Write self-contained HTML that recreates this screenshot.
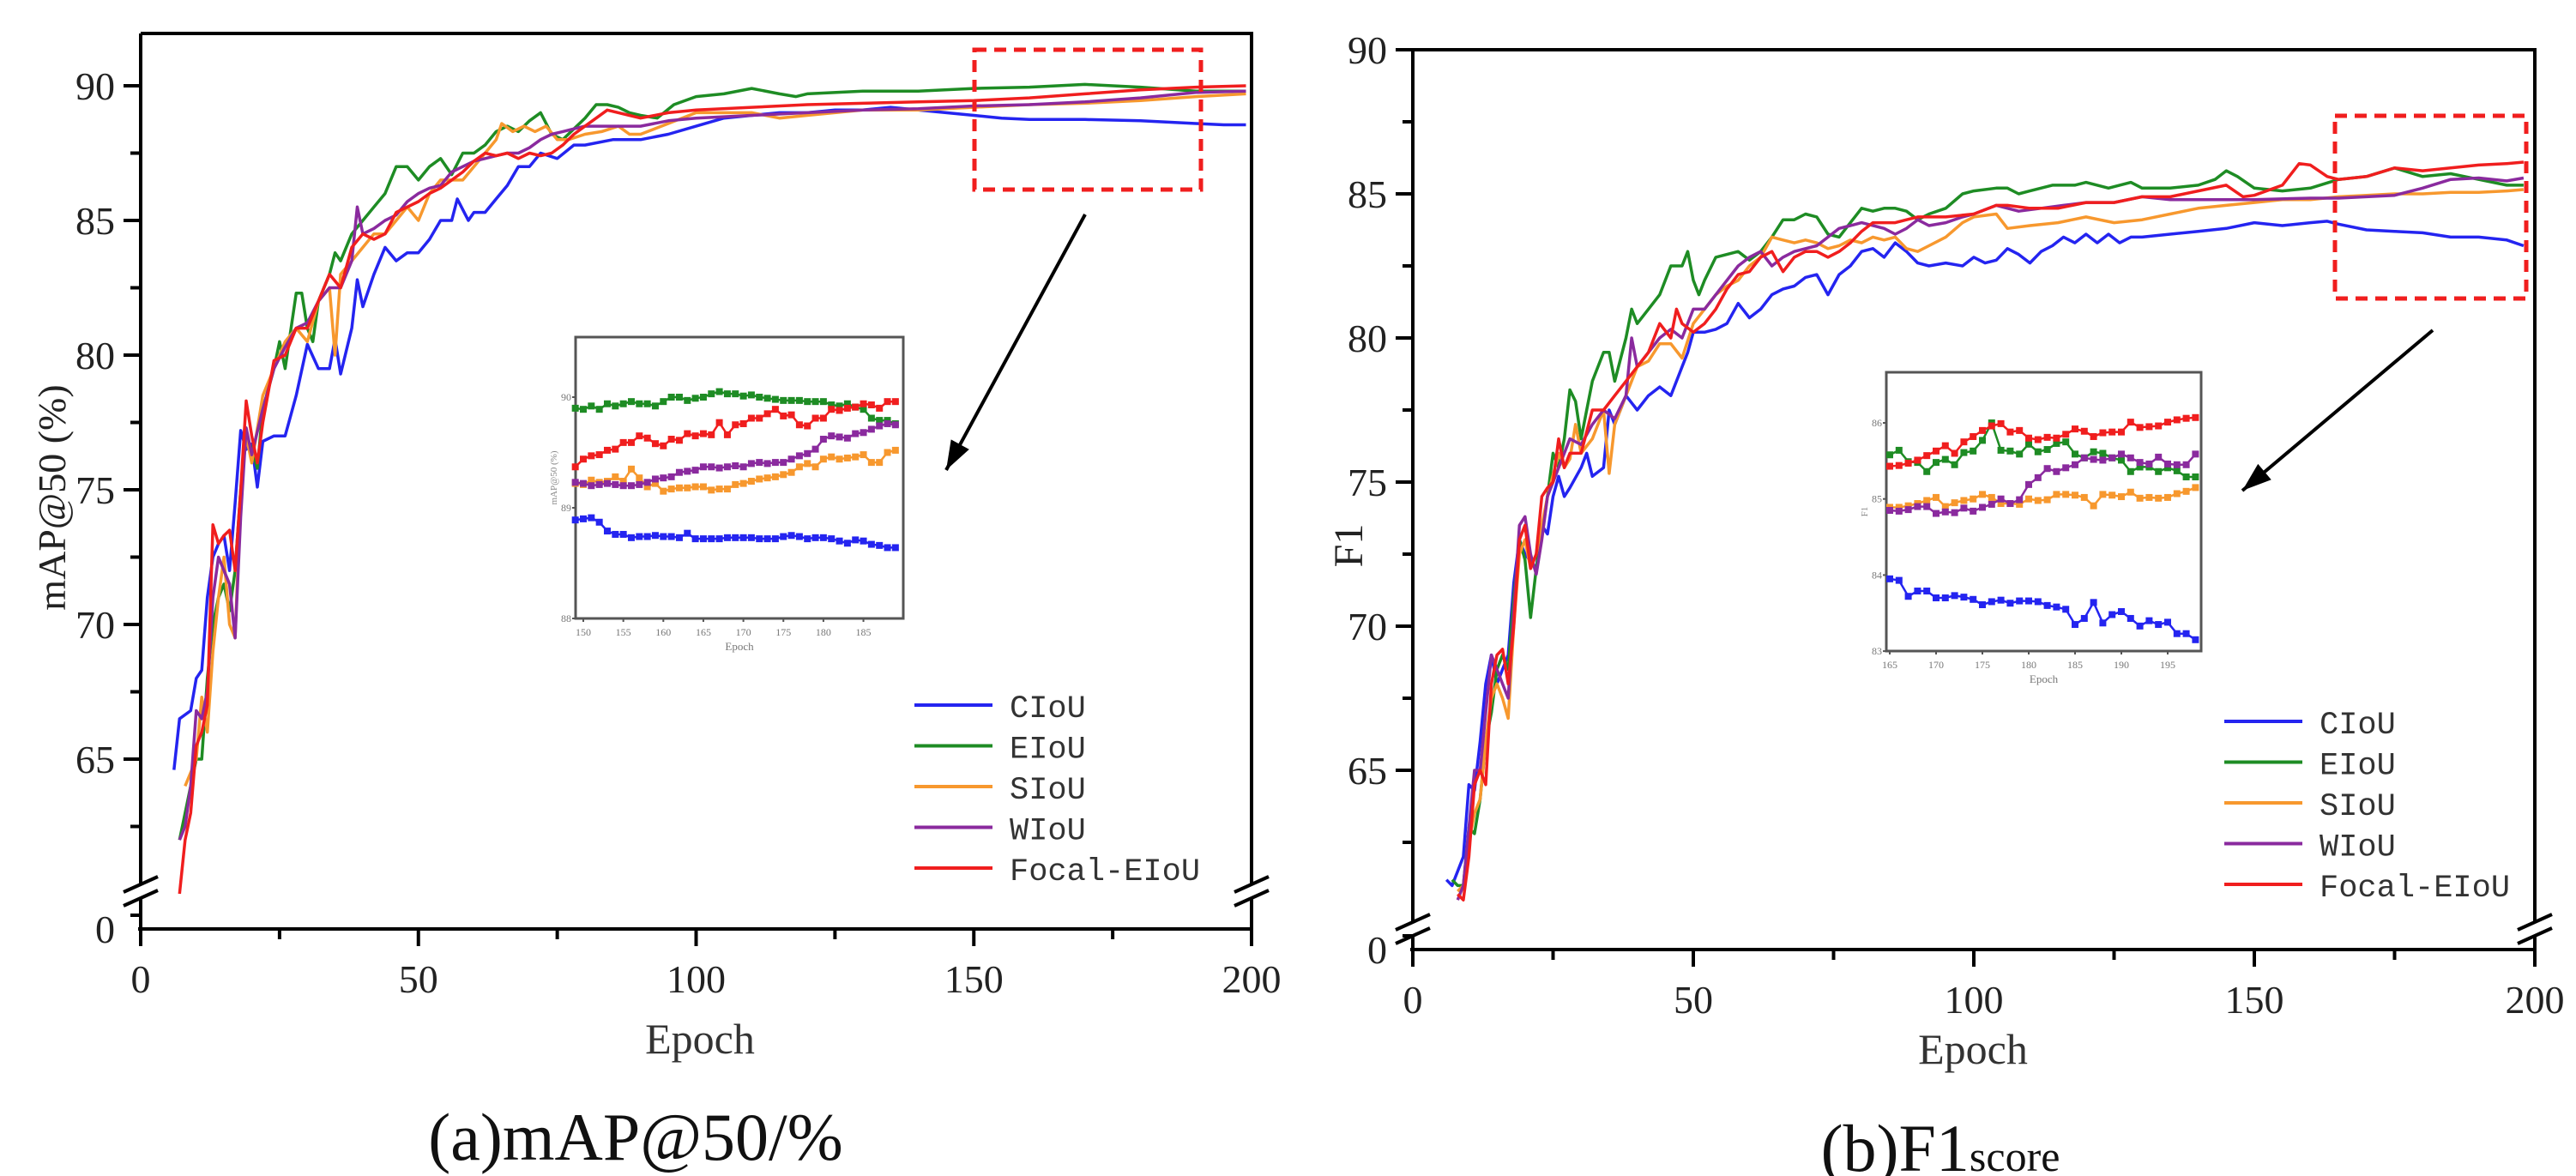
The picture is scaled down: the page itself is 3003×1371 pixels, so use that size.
<!DOCTYPE html>
<html><head><meta charset="utf-8"><style>
html,body{margin:0;padding:0;background:#fff;}
svg{display:block;}
</style></head><body>
<svg id="fig" width="3003" height="1371" viewBox="0 0 3003 1371" xmlns="http://www.w3.org/2000/svg" font-family="'Liberation Serif', serif">
<rect width="3003" height="1371" fill="#fff"/>
<g id="pa"></g>
<g id="pb"></g>
</svg>
<script>
const names=["CIoU","EIoU","SIoU","WIoU","Focal-EIoU"];
const colors=["#2424f0","#1e8c24","#f7982e","#8a2a9e","#f01e1e"];
// ---- panel a main data (mAP@50) ----
const aCiouE=[6,7,9,10,11,12,13,14,15,16,17,18,19,20,21,22,24,26,28,30,32,34,35,36,38,39,40,42,44,46,48,50,52,54,56,57,59,60,62,64,66,68,70,72,75,78,80,85,90,95,100,105,110,115,120,125,130,135,140,145,150,155,160,170,180,190,195,199];
const aCiouV=[64.6,66.5,66.8,68,68.3,71,72.5,73,73.3,72,74.5,77.2,76.5,76.7,75.1,76.8,77,77,78.5,80.4,79.5,79.5,80.6,79.3,81,82.8,81.8,83,84,83.5,83.8,83.8,84.3,85,85,85.8,85,85.3,85.3,85.8,86.3,87,87,87.5,87.3,87.8,87.8,88,88,88.2,88.5,88.8,88.9,89,89,89.1,89.1,89.2,89.1,89,88.9,88.8,88.75,88.75,88.7,88.6,88.55,88.55];
const aEiouE=[7,8,10,11,12,13,14,15,16,17,18,19,20,21,22,24,25,26,28,29,30,31,32,34,35,36,38,40,42,44,46,48,50,52,54,56,58,60,62,64,66,68,70,72,74,76,78,80,82,84,86,88,90,93,96,100,105,110,115,118,120,130,140,150,160,170,180,190,199];
const aEiouV=[62,63,65,65,68,70,71,71.5,70.5,72,75,77,76.5,75.8,78,79.5,80.5,79.5,82.3,82.3,81,80.5,82,83,83.8,83.5,84.5,85,85.5,86,87,87,86.5,87,87.3,86.7,87.5,87.5,87.8,88.3,88.5,88.3,88.7,89,88.2,88,88.4,88.8,89.3,89.3,89.2,89,88.9,88.8,89.3,89.6,89.7,89.9,89.7,89.6,89.7,89.8,89.8,89.9,89.95,90.05,89.95,89.8,89.8];
const aSiouE=[8,10,11,12,13,14,15,16,17,18,19,20,22,24,26,28,30,32,34,35,36,38,40,42,44,46,48,50,52,54,56,58,60,62,64,65,67,69,71,73,75,77,80,83,86,88,90,95,100,105,110,115,120,130,140,150,160,170,180,190,199];
const aSiouV=[64,65,67.3,66,69,71,72.5,70,69.5,75,77,76,78.5,79.5,80.5,81,80.5,82,82.5,80,83,83.5,84,84.5,84.5,85,85.5,85,86,86.5,86.5,86.5,87,87.5,88,88.6,88.3,88.5,88.3,88.5,88,88,88.2,88.3,88.5,88.2,88.2,88.6,89,89,89,88.8,88.9,89.1,89.1,89.2,89.3,89.35,89.45,89.6,89.7];
const aWiouE=[7,8,9,10,11,12,13,14,15,16,17,18,19,20,22,24,26,28,30,32,34,36,38,39,40,42,44,46,48,50,52,54,56,58,60,62,64,66,68,70,72,74,76,78,80,84,88,90,95,100,110,120,130,140,150,160,170,180,190,199];
const aWiouV=[62,62.5,64,66.8,66.5,67.5,71,72.5,72,71.5,69.5,74,77.3,76.3,78,79.5,80.3,81,81.2,82,82.5,82.5,83.5,85.5,84.5,84.7,85,85.2,85.7,86,86.2,86.3,86.8,87,87.2,87.3,87.4,87.5,87.5,87.7,88,88.2,88.3,88.4,88.5,88.5,88.5,88.5,88.7,88.8,88.9,89,89.1,89.15,89.25,89.3,89.4,89.55,89.75,89.8];
const aFocE=[7,8,9,10,11,12,13,14,15,16,17,18,19,20,21,22,24,26,28,30,32,34,36,38,40,42,44,46,48,50,52,54,56,58,60,62,64,66,68,70,72,74,76,78,80,82,84,86,88,90,95,100,110,120,130,140,150,160,170,180,190,199];
const aFocV=[60,62,63,65.5,66,67,73.7,73,73.3,73.5,72,75,78.3,77,76,77.5,79.8,80,81,81,82,83,82.5,84,84.5,84.3,84.5,85.3,85.5,85.7,86,86.2,86.5,86.8,87.2,87.5,87.4,87.5,87.3,87.5,87.4,87.5,87.8,88.2,88.5,88.8,89.1,89,88.9,88.8,89,89.1,89.2,89.3,89.35,89.4,89.45,89.55,89.7,89.85,89.95,90];
// ---- panel a inset (epochs 149..189) ----
const aInsetStart=149;
const aInCiou=[88.89,88.9,88.91,88.87,88.79,88.76,88.76,88.73,88.74,88.74,88.75,88.74,88.74,88.73,88.77,88.72,88.72,88.72,88.72,88.73,88.73,88.73,88.73,88.72,88.72,88.72,88.74,88.75,88.74,88.72,88.73,88.73,88.72,88.7,88.68,88.71,88.7,88.67,88.66,88.64,88.64];
const aInEiou=[89.9,89.89,89.92,89.89,89.94,89.92,89.94,89.96,89.94,89.94,89.92,89.96,90,90,89.97,89.99,90,90.03,90.05,90.03,90.03,90.01,90.02,90,89.99,89.98,89.97,89.97,89.97,89.96,89.96,89.96,89.93,89.92,89.94,89.91,89.89,89.81,89.79,89.79,89.76];
const aInSiou=[89.22,89.21,89.25,89.23,89.24,89.28,89.24,89.35,89.27,89.19,89.22,89.15,89.17,89.18,89.18,89.19,89.19,89.16,89.17,89.17,89.21,89.22,89.24,89.26,89.27,89.28,89.3,89.32,89.37,89.4,89.37,89.44,89.46,89.44,89.45,89.46,89.48,89.41,89.41,89.5,89.52];
const aInWiou=[89.23,89.22,89.2,89.21,89.22,89.21,89.2,89.2,89.21,89.23,89.26,89.27,89.28,89.32,89.33,89.34,89.37,89.37,89.36,89.37,89.38,89.37,89.4,89.41,89.4,89.41,89.41,89.44,89.47,89.49,89.53,89.62,89.65,89.64,89.63,89.67,89.68,89.71,89.74,89.76,89.75];
const aInFoc=[89.37,89.44,89.47,89.48,89.52,89.53,89.59,89.59,89.65,89.63,89.58,89.56,89.62,89.61,89.67,89.65,89.67,89.66,89.77,89.66,89.75,89.76,89.81,89.81,89.85,89.89,89.83,89.84,89.75,89.74,89.81,89.81,89.89,89.88,89.9,89.91,89.94,89.93,89.9,89.96,89.96];
// ---- panel b main data (F1) ----
const bCiouE=[6,7,9,10,11,12,13,14,15,16,17,18,19,20,22,23,24,25,26,27,28,30,31,32,34,35,36,38,40,42,44,46,48,49,50,52,54,56,58,60,62,64,66,68,70,72,74,76,78,80,82,84,86,88,90,92,95,98,100,102,104,106,108,110,112,114,116,118,120,122,124,126,128,130,135,140,145,150,155,160,163,165,170,175,180,185,190,195,198];
const bCiouV=[61.2,61,62,64.5,64.3,66,68,69,68,68.5,69,71.5,73,72.5,72,73.5,73.2,74.5,75.2,74.5,74.8,75.5,76,75.2,75.5,77.5,77,78,77.5,78,78.3,78,79,79.5,80.2,80.2,80.3,80.5,81.2,80.7,81,81.5,81.7,81.8,82.1,82.2,81.5,82.2,82.5,83,83.1,82.8,83.3,83,82.6,82.5,82.6,82.5,82.8,82.6,82.7,83.1,82.9,82.6,83,83.2,83.5,83.3,83.6,83.3,83.6,83.3,83.5,83.5,83.6,83.7,83.8,84,83.9,84,84.05,83.95,83.75,83.7,83.65,83.5,83.5,83.4,83.2];
const bEiouE=[7,8,9,10,11,12,13,14,15,16,17,18,19,20,21,22,24,25,26,27,28,29,30,31,32,34,35,36,38,39,40,42,44,46,48,49,50,51,52,54,56,58,60,62,64,66,68,70,72,74,76,78,80,82,84,86,88,90,92,95,98,100,104,106,108,110,114,118,120,124,128,130,135,140,143,145,147,150,155,160,165,170,175,180,185,190,195,198];
const bEiouV=[61.2,61,61,63,62.8,64,66,67,68.5,69,68.5,71,73,72.3,70.3,72,74.5,76,75.5,76.5,78.2,77.8,76.5,77.5,78.5,79.5,79.5,78.5,80,81,80.5,81,81.5,82.5,82.5,83,82,81.5,82,82.8,82.9,83,82.7,83,83.5,84.1,84.1,84.3,84.2,83.6,83.5,84,84.5,84.4,84.5,84.5,84.4,84.1,84.3,84.5,85,85.1,85.2,85.2,85,85.1,85.3,85.3,85.4,85.2,85.4,85.2,85.2,85.3,85.5,85.8,85.6,85.2,85.1,85.2,85.5,85.6,85.9,85.6,85.7,85.5,85.3,85.3];
const bSiouE=[8,9,10,11,12,13,14,15,16,17,18,19,20,21,22,24,26,27,28,29,30,32,34,35,36,38,40,42,44,46,48,50,52,54,56,58,60,62,64,66,68,70,72,74,76,78,80,82,84,86,88,90,92,95,98,100,104,106,110,115,120,125,130,135,140,145,150,155,160,165,170,175,180,185,190,195,198];
const bSiouV=[60.8,61,62.5,63.5,64,66,67.5,68,67.5,66.8,70,72.5,73,72,72.5,74.5,76,75.5,75.8,77,76,76.5,77.5,75.3,77,78,79,79.2,79.8,79.8,79.3,80.5,81,81.5,81.8,82,82.5,82.8,83.5,83.4,83.3,83.4,83.3,83.1,83.2,83.4,83.3,83.5,83.4,83.5,83.1,83,83.2,83.5,84,84.2,84.3,83.8,83.9,84,84.2,84,84.1,84.3,84.5,84.6,84.7,84.8,84.8,84.9,84.95,85,85,85.05,85.05,85.1,85.15];
const bWiouE=[8,9,10,11,12,13,14,15,16,17,18,19,20,21,22,23,24,26,27,28,30,32,34,36,38,39,40,42,44,46,48,50,52,54,56,58,60,62,64,66,68,70,72,74,76,78,80,84,86,88,90,92,95,98,100,104,108,112,116,120,125,130,135,140,150,160,165,170,175,180,185,190,195,198];
const bWiouV=[60.5,61,63,65,65,67,69,68.5,68,67.5,70.5,73.5,73.8,72.5,71.8,73,74.5,75.5,76,76.5,76.3,77,77.5,77.2,78,80,79,79.5,80,80.3,80,81,81,81.5,82,82.5,82.8,83,82.5,82.8,83,83.1,83.2,83.5,83.8,83.9,84,83.8,83.6,83.8,84.1,83.9,84,84.2,84.3,84.6,84.4,84.5,84.6,84.7,84.7,84.9,84.8,84.8,84.8,84.85,84.85,84.9,84.95,85.2,85.5,85.55,85.45,85.55];
const bFocE=[8,9,10,11,12,13,14,15,16,17,18,19,20,21,22,23,24,25,26,27,28,30,32,34,36,38,40,42,44,46,47,48,50,52,54,56,58,60,62,64,66,68,70,72,74,76,78,80,82,84,86,88,90,95,100,104,106,110,115,120,125,130,135,140,145,148,150,155,158,160,163,165,170,175,180,185,190,195,198];
const bFocV=[60.7,60.5,62,64.5,65,64.5,68,69,69.2,68,70,73,73.5,72,72.5,74.5,74.8,75,76.5,75.5,76,76,77.5,77.5,78,78.5,79,79.5,80.5,80,81,80.5,80.2,80.5,81,81.7,82.2,82.3,82.8,83,82.3,82.8,83,83,82.8,83,83.3,83.7,84,84,84,84.1,84.2,84.2,84.3,84.6,84.6,84.5,84.5,84.7,84.7,84.9,84.9,85.1,85.3,84.9,84.95,85.3,86.05,86,85.6,85.5,85.6,85.9,85.8,85.9,86,86.05,86.1];
// ---- panel b inset (epochs 165..198) ----
const bInsetStart=165;
const bInCiou=[83.95,83.93,83.72,83.79,83.79,83.7,83.7,83.73,83.71,83.68,83.61,83.65,83.67,83.63,83.66,83.66,83.65,83.6,83.58,83.55,83.35,83.43,83.64,83.37,83.48,83.52,83.43,83.33,83.4,83.35,83.38,83.23,83.23,83.15];
const bInEiou=[85.58,85.64,85.49,85.48,85.36,85.48,85.52,85.45,85.61,85.63,85.77,86,85.64,85.63,85.59,85.72,85.62,85.65,85.73,85.75,85.59,85.54,85.62,85.6,85.54,85.51,85.36,85.42,85.42,85.36,85.41,85.37,85.29,85.29];
const bInSiou=[84.89,84.89,84.91,84.94,84.98,85.02,84.9,84.95,84.98,85,85.06,85.02,84.94,84.94,84.93,85,84.98,84.99,85.06,85.06,85.05,85.02,84.91,85.06,85.05,85.03,85.09,85.01,85.02,85.01,85.02,85.07,85.1,85.15];
const bInWiou=[84.85,84.84,84.86,84.9,84.9,84.81,84.83,84.82,84.88,84.84,84.89,84.93,85,84.94,84.99,85.19,85.28,85.4,85.36,85.41,85.45,85.54,85.52,85.51,85.54,85.59,85.54,85.48,85.46,85.55,85.46,85.45,85.45,85.59];
const bInFoc=[85.43,85.44,85.47,85.51,85.57,85.63,85.7,85.6,85.75,85.82,85.9,85.96,85.99,85.88,85.9,85.8,85.78,85.81,85.8,85.85,85.92,85.89,85.82,85.87,85.88,85.88,86.01,85.94,85.95,85.96,86.01,86.04,86.06,86.07];

const NS="http://www.w3.org/2000/svg";
function mk(parent,tag,attrs,text){const e=document.createElementNS(NS,tag);for(const k in attrs)e.setAttribute(k,attrs[k]);if(text!==undefined)e.textContent=text;parent.appendChild(e);return e;}

function panel(g,cfg){
  const X=e=>cfg.x0+(e-0)*(cfg.x1-cfg.x0)/200;
  const Y=v=>cfg.yTop+(cfg.vTop-v)*cfg.pu;
  // frame
  let fr=mk(g,'path',{d:`M${cfg.x0},${cfg.yBreak} L${cfg.x0},${cfg.y0} M${cfg.x0},${cfg.yBreak+16} L${cfg.x0},${cfg.axisY+20} M${cfg.x0-3},${cfg.axisY} L${cfg.x1},${cfg.axisY} L${cfg.x1},${cfg.yBreak+16} M${cfg.x1},${cfg.yBreak} L${cfg.x1},${cfg.y0} L${cfg.x0},${cfg.y0}`,stroke:'#000','stroke-width':4,fill:'none'});
  
  
  // break marks
  [cfg.x0,cfg.x1].forEach(bx=>{[0,16].forEach(o=>{const l=mk(g,'line',{x1:bx-20,y1:cfg.yBreak+o+10,x2:bx+20,y2:cfg.yBreak+o-8,stroke:'#000','stroke-width':4});
    
    });});
  // y ticks
  cfg.yTicks.forEach(v=>{const y=Y(v);
    const t=mk(g,'line',{x1:cfg.x0-20,y1:y,x2:cfg.x0,y2:y,stroke:'#000','stroke-width':4});
    
    
    const lb=mk(g,'text',{x:cfg.x0-30,y:y+16,'text-anchor':'end','font-size':46,fill:'#222'},String(v));
    
    });
  cfg.yMinor.forEach(v=>{const y=Y(v);const t=mk(g,'line',{x1:cfg.x0-12,y1:y,x2:cfg.x0,y2:y,stroke:'#000','stroke-width':4});
    
    });
  const zt=mk(g,'text',{x:cfg.x0-30,y:cfg.axisY+16,'text-anchor':'end','font-size':46,fill:'#222'},'0');
  
  
  const zl=mk(g,'line',{x1:cfg.x0-12,y1:cfg.axisY-16,x2:cfg.x0,y2:cfg.axisY-16,stroke:'#000','stroke-width':4});
  
  
  // x ticks
  [0,25,50,75,100,125,150,175,200].forEach(e=>{const x=X(e);const maj=e%50===0;
    const t=mk(g,'line',{x1:x,y1:cfg.axisY,x2:x,y2:cfg.axisY+(maj?20:12),stroke:'#000','stroke-width':4});
    
    
    if(maj){const lb=mk(g,'text',{x:x,y:cfg.axisY+74,'text-anchor':'middle','font-size':46,fill:'#222'},String(e));
      
      }});
  // series
  cfg.series.forEach((s,i)=>{const d=s[0].map((e,k)=>(k?'L':'M')+X(e).toFixed(1)+','+Y(s[1][k]).toFixed(1)).join(' ');
    const p=mk(g,'path',{d:d,stroke:colors[i],'stroke-width':3.5,fill:'none','stroke-linejoin':'round'});
    
    });
  // labels
  const xl=mk(g,'text',{x:cfg.xlx,y:cfg.xly,'text-anchor':'middle','font-size':50,fill:'#333'},'Epoch');
  
  
  const yl=mk(g,'text',{x:0,y:0,'text-anchor':'middle','font-size':cfg.ylSize,fill:'#222',transform:`translate(${cfg.ylx},${cfg.yly}) rotate(-90)`},cfg.ylabel);
  
  
  // legend
  const lg=mk(g,'g',{});
  
  
  names.forEach((n,i)=>{const y=cfg.legY+i*47.5;
    const l=mk(lg,'line',{x1:cfg.legX,y1:y,x2:cfg.legX+91,y2:y,stroke:colors[i],'stroke-width':4});
    
    
    const t=mk(lg,'text',{x:cfg.legX+111,y:y+14,'font-size':37,'font-family':"'Liberation Mono', monospace",fill:'#333'},n);
    
    });
  // dashed zoom box + arrow
  const b=cfg.box;
  const bx=mk(g,'rect',{x:b[0],y:b[1],width:b[2]-b[0],height:b[3]-b[1],fill:'none',stroke:'#f01e1e','stroke-width':5,'stroke-dasharray':'14,9'});
  
  
  const a=cfg.arrow;
  const ar=mk(g,'line',{x1:a[0],y1:a[1],x2:a[2],y2:a[3],stroke:'#000','stroke-width':4});
  
  
  const ang=Math.atan2(a[3]-a[1],a[2]-a[0]);const L=34,W=12;
  const hx=a[2]-L*Math.cos(ang),hy=a[3]-L*Math.sin(ang);
  const ah=mk(g,'polygon',{points:`${a[2]},${a[3]} ${hx+W*Math.sin(ang)},${hy-W*Math.cos(ang)} ${hx-W*Math.sin(ang)},${hy+W*Math.cos(ang)}`,fill:'#000'});
  
  
  // caption
  const cap=mk(g,'text',{x:cfg.capX,y:cfg.capY,'text-anchor':'middle','font-size':78,fill:'#111'});
  
  
  cap.textContent=cfg.cap;
  if(cfg.capSub){const ts=mk(cap,'tspan',{'font-size':50},cfg.capSub);}
}

function inset(g,c){
  const X=e=>c.ex0+(e-c.e0)*c.pe;
  const Y=v=>c.vy0+(c.v0-v)*c.pv;
  const r=mk(g,'rect',{x:c.l,y:c.t,width:c.r-c.l,height:c.b-c.t,fill:'#fff',stroke:'#555','stroke-width':3});
  
  
  c.yt.forEach(v=>{const y=Y(v);const lb=mk(g,'text',{x:c.l-5,y:y+4,'text-anchor':'end','font-size':12,fill:'#777'},String(v));
    
    
    const tk=mk(g,'line',{x1:c.l-4,y1:y,x2:c.l,y2:y,stroke:'#555','stroke-width':2});
    
    });
  c.xt.forEach(e=>{const x=X(e);const lb=mk(g,'text',{x:x,y:c.b+20,'text-anchor':'middle','font-size':12,fill:'#777'},String(e));
    
    
    const tk=mk(g,'line',{x1:x,y1:c.b,x2:x,y2:c.b+4,stroke:'#555','stroke-width':2});
    
    });
  const xl=mk(g,'text',{x:(c.l+c.r)/2,y:c.b+37,'text-anchor':'middle','font-size':13,fill:'#777'},'Epoch');
  
  
  const yl=mk(g,'text',{x:0,y:0,'text-anchor':'middle','font-size':11,fill:'#888',transform:`translate(${c.l-22},${(c.t+c.b)/2}) rotate(-90)`},c.ylabel);
  
  
  c.series.forEach((vals,i)=>{const d=vals.map((v,k)=>(k?'L':'M')+X(c.start+k).toFixed(1)+','+Y(v).toFixed(1)).join(' ');
    const p=mk(g,'path',{d:d,stroke:colors[i],'stroke-width':2.5,fill:'none'});
    
    
    vals.forEach((v,k)=>{const m=mk(g,'rect',{x:X(c.start+k)-4,y:Y(v)-4,width:8,height:8,fill:colors[i]});
      
      });});
}

const pa=document.getElementById('pa'),pb=document.getElementById('pb');
panel(pa,{x0:164,x1:1459,y0:39,axisY:1083,yBreak:1030,yTop:100,vTop:90,pu:31.4,
  yTicks:[90,85,80,75,70,65],yMinor:[87.5,82.5,77.5,72.5,67.5,62.5],
  series:[[aCiouE,aCiouV],[aEiouE,aEiouV],[aSiouE,aSiouV],[aWiouE,aWiouV],[aFocE,aFocV]],
  xlx:816,xly:1228,ylx:76,yly:580,ylSize:46,ylabel:'mAP@50 (%)',legX:1066,legY:822,
  box:[1136,58,1400,221],arrow:[1265,250,1103,548],capX:741,capY:1352,cap:'(a)mAP@50/%'});
panel(pb,{x0:1647,x1:2955,y0:58,axisY:1107,yBreak:1074,yTop:58,vTop:90,pu:33.6,
  yTicks:[90,85,80,75,70,65],yMinor:[87.5,82.5,77.5,72.5,67.5,62.5],
  series:[[bCiouE,bCiouV],[bEiouE,bEiouV],[bSiouE,bSiouV],[bWiouE,bWiouV],[bFocE,bFocV]],
  xlx:2300,xly:1240,ylx:1588,yly:636,ylSize:48,ylabel:'F1',legX:2593,legY:841,
  box:[2722,135,2945,348],arrow:[2836,385,2614,572],capX:2262,capY:1365,cap:'(b)F1',capSub:'score'});
inset(pa,{l:671,r:1053,t:393,b:721,e0:150,ex0:680,pe:9.33,v0:90,vy0:463,pv:129,start:aInsetStart,
  yt:[90,89,88],xt:[150,155,160,165,170,175,180,185],ylabel:'mAP@50 (%)',
  series:[aInCiou,aInEiou,aInSiou,aInWiou,aInFoc]});
inset(pb,{l:2199,r:2566,t:434,b:759,e0:165,ex0:2203,pe:10.8,v0:86,vy0:493,pv:88.7,start:bInsetStart,
  yt:[86,85,84,83],xt:[165,170,175,180,185,190,195],ylabel:'F1',
  series:[bInCiou,bInEiou,bInSiou,bInWiou,bInFoc]});
</script>
</body></html>
